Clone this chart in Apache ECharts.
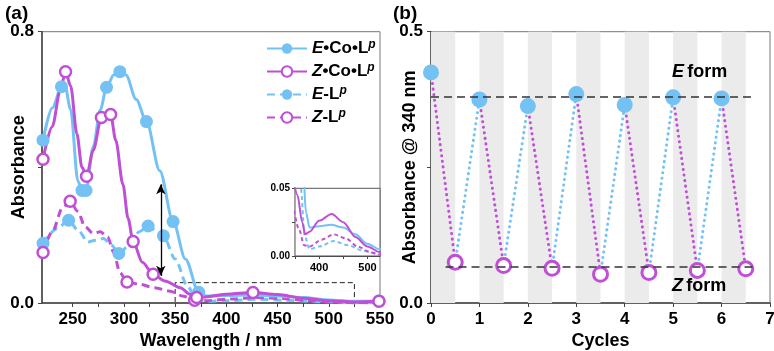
<!DOCTYPE html>
<html>
<head>
<meta charset="utf-8">
<script src="https://cdn.jsdelivr.net/npm/echarts@6/dist/echarts.min.js"></script>
<style>
  html, body { margin: 0; padding: 0; background: #fff; }
  #main { width: 774px; height: 351px; }
</style>
</head>
<body>
<div id="main"></div>
<script>
// panel (a): absorption spectra
var eCoWl  = [221, 230, 239, 242, 248, 255, 259, 263, 270, 277, 283, 290, 296, 302, 312, 322, 335, 348, 360, 373, 380, 400, 425, 450, 475, 500, 525, 549];
var eCoAbs = [0.48, 0.575, 0.638, 0.648, 0.57, 0.36, 0.332, 0.332, 0.46, 0.57, 0.636, 0.672, 0.682, 0.672, 0.60, 0.535, 0.39, 0.24, 0.13, 0.032, 0.021, 0.022, 0.023, 0.021, 0.016, 0.009, 0.005, 0.006];
var eCoMarks = [221, 239, 259, 263, 283, 296, 322, 348, 373, 549];

var zCoWl  = [221, 230, 238, 243, 248, 254, 259, 263.5, 270, 278, 282, 287, 292, 299, 304, 309, 318, 328.5, 340, 355, 365, 371, 380, 400, 426, 450, 475, 500, 525, 549];
var zCoAbs = [0.424, 0.52, 0.63, 0.682, 0.64, 0.50, 0.40, 0.374, 0.45, 0.547, 0.553, 0.556, 0.48, 0.35, 0.25, 0.181, 0.12, 0.085, 0.065, 0.045, 0.025, 0.016, 0.018, 0.026, 0.031, 0.025, 0.014, 0.007, 0.003, 0.005];
var zCoMarks = [221, 243, 263.5, 278, 287, 309, 328.5, 371, 426, 549];

var eLWl  = [221, 235, 246, 255, 265, 272, 280, 288, 295, 305, 315, 323.6, 331, 338.5, 350, 362, 370, 380, 400, 430, 460, 490, 525, 550];
var eLAbs = [0.176, 0.22, 0.244, 0.215, 0.18, 0.185, 0.19, 0.17, 0.146, 0.17, 0.21, 0.227, 0.215, 0.198, 0.13, 0.05, 0.015, 0.005, 0.007, 0.011, 0.008, 0.004, 0.001, 0.001];
var eLMarks = [221, 246, 295, 323.6, 338.5];

var zLWl  = [221, 230, 240, 247.5, 255, 262, 270, 277, 284, 290, 296, 303, 315, 330, 345, 358, 369, 380, 405, 430, 455, 480, 505, 525, 550];
var zLAbs = [0.149, 0.21, 0.28, 0.30, 0.27, 0.225, 0.205, 0.21, 0.195, 0.15, 0.09, 0.062, 0.055, 0.045, 0.035, 0.02, 0.008, 0.007, 0.012, 0.016, 0.013, 0.007, 0.003, 0.001, 0.0];
var zLMarks = [221, 247.5, 303, 369];

var waveLabels = [250, 300, 350, 400, 450, 500, 550];
var waveTicks = [250, 275, 300, 325, 350, 375, 400, 425, 450, 475, 500, 525, 550];
var insetWaveLabels = [400, 500];
var insetWaveTicks = [350, 400, 450, 500];
var zoomBoxWl = [350, 350, 525, 525];
var zoomBoxAbs = [0.003, 0.06, 0.06, 0];
var arrowWl = 336;
var arrowAbs = [0.35, 0.08];

// panel (b): switching cycles
var eCycles = [0, 1, 2, 3, 4, 5, 6];
var eCycleAbs = [0.425, 0.375, 0.363, 0.385, 0.365, 0.379, 0.377];
var zCycles = [0.5, 1.5, 2.5, 3.5, 4.5, 5.5, 6.5];
var zCycleAbs = [0.075, 0.069, 0.064, 0.053, 0.056, 0.060, 0.063];
var eFormLevel = 0.38;
var zFormLevel = 0.066;
var cycleLabels = [0, 1, 2, 3, 4, 5, 6, 7];

var blue = '#74C1F4';
var magenta = '#BF50D6';
var axisCol = '#444';
var font = 'Liberation Sans, Arial, sans-serif';

var chart = echarts.init(document.getElementById('main'), null, {renderer: 'canvas'});

function build(wl, ab, marks) {
  return wl.map(function (w, i) {
    return {value: [w, ab[i]], symbol: marks.indexOf(w) >= 0 ? 'circle' : 'none'};
  });
}
function pairs(xs, ys) {
  return xs.map(function (x, i) { return [x, ys[i]]; });
}

// dotted segments in panel b: magenta E->Z, blue Z->E
var downSeg = [], upSeg = [];
for (var i = 0; i < zCycles.length; i++) {
  downSeg.push([eCycles[i], eCycleAbs[i]], [zCycles[i], zCycleAbs[i]], '-');
  if (i + 1 < eCycles.length) upSeg.push([zCycles[i], zCycleAbs[i]], [eCycles[i + 1], eCycleAbs[i + 1]], '-');
}
var bands = [];
for (var c = 0; c < 7; c++) bands.push([{xAxis: c}, {xAxis: c + 0.5}]);

var labelStyle = {color: '#000', fontSize: 17, fontWeight: 'bold', fontFamily: font};
var nameStyle = {color: '#000', fontSize: 18, fontWeight: 'bold', fontFamily: font};
var axLine = {show: true, lineStyle: {color: axisCol, width: 1.5}};

var legendRich = {
  i: {fontStyle: 'italic', fontWeight: 'bold', fontSize: 17, fontFamily: font, color: '#000'},
  n: {fontWeight: 'bold', fontSize: 17, fontFamily: font, color: '#000'},
  s: {fontStyle: 'italic', fontWeight: 'bold', fontSize: 12, fontFamily: font, color: '#000', verticalAlign: 'top', padding: [0, 0, 7, 0]}
};
var legendText = {
  'E•Co•Lp': '{i|E}{n|•Co•L}{s|p}',
  'Z•Co•Lp': '{i|Z}{n|•Co•L}{s|p}',
  'E-Lp': '{i|E}{n|-L}{s|p}',
  'Z-Lp': '{i|Z}{n|-L}{s|p}'
};

var specLine = function (name, wl, ab, marks, color, filled, dashed) {
  return {
    name: name, type: 'line', xAxisIndex: 0, yAxisIndex: 0,
    data: build(wl, ab, marks), symbol: 'circle', symbolSize: filled ? 13 : 11,
    smooth: 0.3, smoothMonotone: 'x', clip: true,
    lineStyle: {color: color, width: 3, type: dashed ? [8, 5] : 'solid'},
    itemStyle: filled ? {color: color} : {color: '#fff', borderColor: color, borderWidth: 2.5},
    z: dashed ? 2 : 3
  };
};
var insetLine = function (wl, ab, color, dashed) {
  return {
    type: 'line', xAxisIndex: 2, yAxisIndex: 2, data: pairs(wl, ab),
    symbol: 'none', smooth: 0.3, smoothMonotone: 'x', clip: true, silent: true,
    lineStyle: {color: color, width: 2, type: dashed ? [4, 3] : 'solid'}, z: 5
  };
};
var richForm = {
  i: {fontStyle: 'italic', fontWeight: 'bold', fontSize: 18, fontFamily: font, fill: '#000'},
  n: {fontWeight: 'bold', fontSize: 18, fontFamily: font, fill: '#000'}
};

var option = {
  animation: false,
  backgroundColor: '#fff',
  textStyle: {fontFamily: font},
  title: [
    {text: '(a)', left: 0, top: -1, textStyle: {fontSize: 19, fontWeight: 'bold', fontFamily: font, color: '#000'}},
    {text: '(b)', left: 388, top: -1, textStyle: {fontSize: 19, fontWeight: 'bold', fontFamily: font, color: '#000'}}
  ],
  legend: {
    data: ['E•Co•Lp', 'Z•Co•Lp', 'E-Lp', 'Z-Lp'],
    orient: 'vertical', left: 261, top: 34, itemWidth: 40, itemHeight: 13, itemGap: 5,
    formatter: function (n) { return legendText[n]; },
    textStyle: {rich: legendRich, fontSize: 17}
  },
  grid: [
    {left: 42, top: 31.7, right: 394, bottom: 48, outerBoundsMode: 'none', show: true, borderColor: '#777', borderWidth: 1},
    {left: 431, top: 31.7, right: 4, bottom: 48, outerBoundsMode: 'none', show: true, borderColor: '#777', borderWidth: 1},
    {left: 295, top: 188.3, width: 85, height: 67.7, outerBoundsMode: 'none', show: true, borderColor: '#555', borderWidth: 1, backgroundColor: '#fff', z: 4}
  ],
  xAxis: [
    {type: 'value', gridIndex: 0, min: 220, max: 550,
     name: 'Wavelength / nm', nameLocation: 'middle', nameGap: 29, nameMoveOverlap: false, nameTextStyle: nameStyle,
     axisLine: axLine, splitLine: {show: false},
     axisTick: {show: true, length: 4, customValues: waveTicks, lineStyle: {color: axisCol}},
     axisLabel: Object.assign({margin: 8, customValues: waveLabels}, labelStyle)},
    {type: 'value', gridIndex: 1, min: 0, max: 7, interval: 1,
     name: 'Cycles', nameLocation: 'middle', nameGap: 29, nameMoveOverlap: false, nameTextStyle: nameStyle,
     axisLine: axLine, splitLine: {show: false},
     axisTick: {show: true, length: 4, lineStyle: {color: axisCol}},
     axisLabel: Object.assign({margin: 8, customValues: cycleLabels}, labelStyle)},
    {type: 'value', gridIndex: 2, min: 350, max: 526,
     axisLine: {show: true, lineStyle: {color: axisCol, width: 1.2}}, splitLine: {show: false},
     axisTick: {show: true, length: 3, customValues: insetWaveTicks, lineStyle: {color: axisCol}},
     axisLabel: {customValues: insetWaveLabels, margin: 6, color: '#000', fontSize: 11, fontWeight: 'bold', fontFamily: font}}
  ],
  yAxis: [
    {type: 'value', gridIndex: 0, min: 0, max: 0.8,
     name: 'Absorbance', nameLocation: 'middle', nameGap: 14, nameMoveOverlap: false, nameTextStyle: nameStyle,
     axisLine: axLine, splitLine: {show: false},
     axisTick: {show: true, length: 4, customValues: [0, 0.4, 0.8], lineStyle: {color: axisCol}},
     axisLabel: Object.assign({margin: 8, customValues: [0, 0.8], formatter: function (v) { return v.toFixed(1); }}, labelStyle)},
    {type: 'value', gridIndex: 1, min: 0, max: 0.5,
     name: 'Absorbance @ 340 nm', nameLocation: 'middle', nameGap: 12, nameMoveOverlap: false, nameTextStyle: nameStyle,
     axisLine: axLine, splitLine: {show: false},
     axisTick: {show: true, length: 4, customValues: [0, 0.25, 0.5], lineStyle: {color: axisCol}},
     axisLabel: Object.assign({margin: 8, customValues: [0, 0.5], formatter: function (v) { return v.toFixed(1); }}, labelStyle)},
    {type: 'value', gridIndex: 2, min: 0, max: 0.05,
     axisLine: {show: true, lineStyle: {color: axisCol, width: 1.2}}, splitLine: {show: false},
     axisTick: {show: true, length: 3, customValues: [0, 0.025, 0.05], lineStyle: {color: axisCol}},
     axisLabel: {customValues: [0, 0.05], margin: 5, color: '#000', fontSize: 10, fontWeight: 'bold', fontFamily: font,
                 formatter: function (v) { return v.toFixed(2); }}}
  ],
  series: [
    specLine('E-Lp', eLWl, eLAbs, eLMarks, blue, true, true),
    specLine('Z-Lp', zLWl, zLAbs, zLMarks, magenta, false, true),
    specLine('E•Co•Lp', eCoWl, eCoAbs, eCoMarks, blue, true, false),
    specLine('Z•Co•Lp', zCoWl, zCoAbs, zCoMarks, magenta, false, false),
    {type: 'line', xAxisIndex: 0, yAxisIndex: 0, data: pairs(zoomBoxWl, zoomBoxAbs), symbol: 'none', silent: true,
     lineStyle: {color: '#222', width: 1, type: [5, 3]}, z: 1,
     markLine: {silent: true, symbol: ['arrow', 'arrow'], symbolSize: [7, 10], label: {show: false},
                lineStyle: {color: '#000', width: 1.3, type: 'solid'},
                data: [[{coord: [arrowWl, arrowAbs[0]]}, {coord: [arrowWl, arrowAbs[1]]}]]}},
    insetLine(eLWl, eLAbs, blue, true),
    insetLine(zLWl, zLAbs, magenta, true),
    insetLine(eCoWl, eCoAbs, blue, false),
    insetLine(zCoWl, zCoAbs, magenta, false),
    // panel b
    {type: 'line', xAxisIndex: 1, yAxisIndex: 1, data: downSeg, symbol: 'none', connectNulls: false, silent: true,
     lineStyle: {color: magenta, width: 3, type: [0.1, 5.5], cap: 'round'}, z: 2,
     markArea: {silent: true, itemStyle: {color: '#ebebeb'}, data: bands}},
    {type: 'line', xAxisIndex: 1, yAxisIndex: 1, data: upSeg, symbol: 'none', connectNulls: false, silent: true,
     lineStyle: {color: blue, width: 3, type: [0.1, 5.5], cap: 'round'}, z: 2,
     markLine: {silent: true, symbol: 'none', label: {show: false},
                lineStyle: {color: '#333', width: 1.5, type: [8, 5]},
                data: [[{coord: [0, eFormLevel]}, {coord: [6.7, eFormLevel]}],
                       [{coord: [0.3, zFormLevel]}, {coord: [6.7, zFormLevel]}]]}},
    {type: 'scatter', xAxisIndex: 1, yAxisIndex: 1, data: pairs(eCycles, eCycleAbs), symbolSize: 16,
     itemStyle: {color: blue, opacity: 1}, z: 4},
    {type: 'scatter', xAxisIndex: 1, yAxisIndex: 1, data: pairs(zCycles, zCycleAbs), symbolSize: 14,
     itemStyle: {color: '#fff', borderColor: magenta, borderWidth: 3, opacity: 1}, z: 4}
  ],
  graphic: [
    {type: 'text', left: 672, top: 63, z: 100, silent: true,
     style: {text: '{i|E} {n|form}', rich: richForm}},
    {type: 'text', left: 672, top: 277, z: 100, silent: true,
     style: {text: '{i|Z} {n|form}', rich: richForm}}
  ]
};

chart.setOption(option);
</script>
</body>
</html>
